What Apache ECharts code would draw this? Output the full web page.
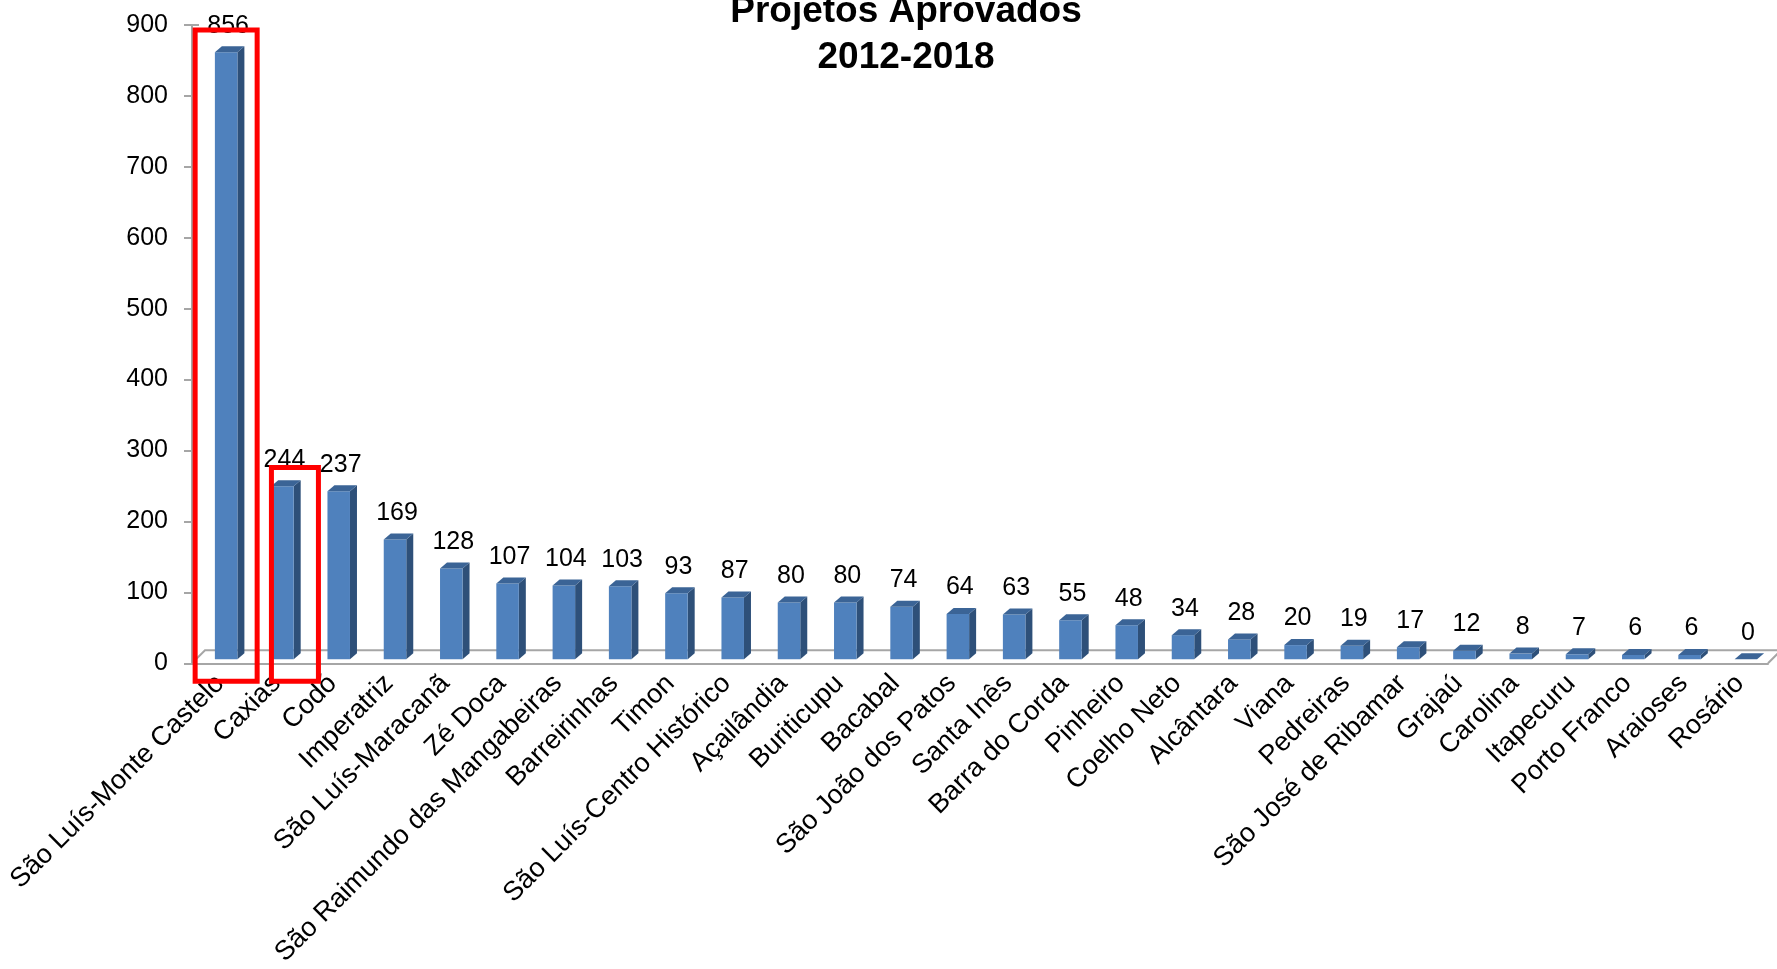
<!DOCTYPE html>
<html><head><meta charset="utf-8">
<script src="https://cdn.jsdelivr.net/npm/echarts@6/dist/echarts.min.js"></script>
<style>html,body{margin:0;padding:0;background:#fff;}#c{width:1777px;height:969px;}</style>
</head><body><div id="c"></div>
<script>
const categories = ["São Luís-Monte Castelo","Caxias","Codó","Imperatriz","São Luís-Maracanã","Zé Doca","São Raimundo das Mangabeiras","Barreirinhas","Timon","São Luís-Centro Histórico","Açailândia","Buriticupu","Bacabal","São João dos Patos","Santa Inês","Barra do Corda","Pinheiro","Coelho Neto","Alcântara","Viana","Pedreiras","São José de Ribamar","Grajaú","Carolina","Itapecuru","Porto Franco","Araioses","Rosário"];
const values = [856,244,237,169,128,107,104,103,93,87,80,80,74,64,63,55,48,34,28,20,19,17,12,8,7,6,6,0];
const yTicks = [0,100,200,300,400,500,600,700,800,900];
const highlightCats = [0,1];
const highlightTops = [893,276];

const FONT = 'Liberation Sans, Arial, sans-serif';
const chart = echarts.init(document.getElementById('c'));
const dx = 7, dy = 6, ox = 6, oy = -4;

chart.setOption({
  animation:false,
  title:{text:'Projetos Aprovados\n2012-2018', left:906, top:-11, textAlign:'center', padding:0,
    textStyle:{fontFamily:FONT, fontSize:37, fontWeight:'bold', color:'#000', lineHeight:46}},
  grid:{left:192, right:9, top:25, bottom:305, containLabel:false},
  xAxis:{type:'category', data:categories,
    axisLine:{lineStyle:{color:'#A6A6A6', width:2}},
    axisTick:{length:8, lineStyle:{color:'#A6A6A6', width:2}},
    axisLabel:{rotate:45, interval:0, margin:16, fontFamily:FONT, fontSize:27, color:'#000'}},
  yAxis:{type:'value', min:yTicks[0], max:yTicks[yTicks.length-1], interval:100,
    axisLine:{show:true, lineStyle:{color:'#A6A6A6', width:2}},
    axisTick:{show:true, length:8, lineStyle:{color:'#A6A6A6', width:2}},
    splitLine:{show:false},
    axisLabel:{margin:24, fontFamily:FONT, fontSize:25, color:'#000'}},
  series:[{
    type:'custom',
    data: values.map((v,i)=>[i,v]),
    renderItem:function(params, api){
      const x = api.value(0), v = api.value(1);
      const base = api.coord([x,0]);
      const top = api.coord([x,v]);
      const band = api.size([1,0])[0];
      const w = band*0.40;
      const cx = base[0]+ox;
      const l = cx - w/2, r = cx + w/2;
      const yb = base[1]+oy, yt = top[1]+oy;
      return {type:'group', children:[
        {type:'polygon', shape:{points:[[r,yt],[r+dx,yt-dy],[r+dx,yb-dy],[r,yb]]}, style:{fill:'#2E5079'}},
        {type:'rect', shape:{x:l, y:yt, width:w, height:Math.max(0,yb-yt)}, style:{fill:'#4F81BD'}},
        {type:'polygon', shape:{points:[[l,yt],[l+dx,yt-dy],[r+dx,yt-dy],[r,yt]]}, style:{fill:'#3B6496'}},
        {type:'text', style:{text:String(v), x:cx+2, y:yt-14, textAlign:'center', textVerticalAlign:'bottom',
          font:'25px '+FONT, fill:'#000'}}
      ]};
    }
  }]
});

// 3D floor and annotation boxes
const p0 = chart.convertToPixel({gridIndex:0},[0,0]);
const pN = chart.convertToPixel({gridIndex:0},[categories.length-1,0]);
const band = pN[0]-p0[0] > 0 ? (pN[0]-p0[0])/(categories.length-1) : 56;
const xL = p0[0]-band/2, xR = pN[0]+band/2, y0 = p0[1];
const fd = 13;
const yTopPx = chart.convertToPixel({gridIndex:0},[0,900])[1];
const gfx = [
  {type:'polyline', shape:{points:[[xL,y0],[xL+fd,y0-fd],[xR+fd,y0-fd],[xR,y0]]}, style:{stroke:'#A6A6A6', lineWidth:2, fill:null}, z:1},
  {type:'line', shape:{x1:xL, y1:yTopPx, x2:xL+7, y2:yTopPx}, style:{stroke:'#A6A6A6', lineWidth:2}}
];
const boxOffsets = [[-25,37],[-5,42]];
highlightCats.forEach((c,k)=>{
  const pc = chart.convertToPixel({gridIndex:0},[c,highlightTops[k]]);
  const x1 = pc[0]+boxOffsets[k][0], x2 = pc[0]+boxOffsets[k][1];
  const yTop = pc[1], yBot = y0+18;
  gfx.push({type:'rect', shape:{x:x1, y:yTop, width:x2-x1, height:yBot-yTop},
    style:{stroke:'#FF0000', lineWidth:5, fill:null}, z:10});
});
chart.setOption({graphic:gfx});
</script></body></html>
